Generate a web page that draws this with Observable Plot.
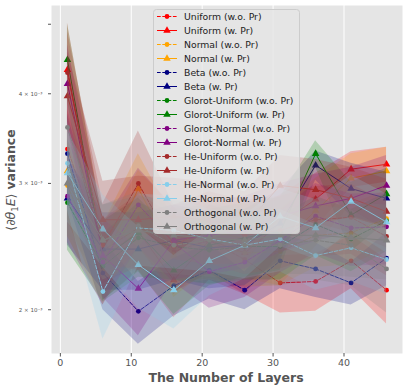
<!DOCTYPE html>
<html><head><meta charset="utf-8">
<script src="https://cdn.jsdelivr.net/npm/d3@7"></script>
<script src="https://cdn.jsdelivr.net/npm/@observablehq/plot@0.6"></script>
<style>
body{margin:0;background:#fff;font-family:"DejaVu Sans",sans-serif;}
#wrap{position:relative;width:407px;height:387px;}
#wrap svg{position:absolute;left:0;top:0;}
</style></head><body><div id="wrap"></div>
<script>
// x positions (number of layers)
const layers = [1, 6, 11, 16, 21, 26, 31, 36, 41, 46];
const labels = ["Uniform (w.o. Pr)", "Uniform (w. Pr)", "Normal (w.o. Pr)", "Normal (w. Pr)",
  "Beta (w.o. Pr)", "Beta (w. Pr)", "Glorot-Uniform (w.o. Pr)", "Glorot-Uniform (w. Pr)",
  "Glorot-Normal (w.o. Pr)", "Glorot-Normal (w. Pr)", "He-Uniform (w.o. Pr)", "He-Uniform (w. Pr)",
  "He-Normal (w.o. Pr)", "He-Normal (w. Pr)", "Orthogonal (w.o. Pr)", "Orthogonal (w. Pr)"];
// mean variance, in units of 1e-3
const uniformWo       = [3.35, 2.42, 2.60, 2.41, 2.50, 2.35, 2.18, 2.19, 2.34, 2.13];
const uniformW        = [4.32, 2.36, 2.57, 2.20, 2.50, 2.40, 2.64, 2.85, 3.14, 3.19];
const normalWo        = [2.98, 2.28, 2.78, 2.48, 2.46, 2.40, 2.41, 2.54, 2.56, 2.68];
const normalW         = [3.12, 2.33, 2.95, 2.38, 2.58, 2.51, 2.46, 2.75, 3.05, 3.12];
const betaWo          = [3.30, 2.25, 1.99, 2.16, 2.27, 2.13, 2.34, 2.28, 2.18, 2.36];
const betaW           = [2.86, 2.43, 2.43, 2.50, 2.44, 2.46, 2.64, 3.18, 2.95, 2.86];
const glorotUniWo     = [2.82, 2.30, 2.52, 2.45, 2.42, 2.45, 2.45, 2.63, 2.51, 2.66];
const glorotUniW      = [4.46, 2.36, 2.56, 2.27, 2.46, 2.52, 2.57, 3.30, 2.71, 2.90];
const glorotNormWo    = [2.88, 2.33, 2.80, 2.48, 2.26, 2.33, 2.50, 2.70, 2.60, 2.61];
const glorotNormW     = [4.13, 2.38, 2.14, 2.50, 2.54, 2.58, 2.70, 2.79, 2.86, 2.98];
const heUniWo         = [4.28, 2.46, 3.00, 2.45, 2.62, 2.54, 2.58, 2.67, 2.69, 2.53];
const heUniW          = [3.97, 2.67, 2.67, 2.70, 2.66, 2.62, 2.98, 2.94, 2.86, 2.74];
const heNormWo        = [3.20, 2.12, 2.60, 2.58, 2.51, 2.46, 2.51, 2.38, 2.44, 2.35];
const heNormW         = [3.10, 2.59, 2.31, 2.13, 2.34, 2.46, 2.70, 2.60, 2.83, 2.65];
const orthoWo         = [3.59, 2.50, 2.62, 2.46, 2.50, 2.46, 2.46, 2.50, 2.46, 2.28];
const orthoW          = [3.00, 2.50, 2.58, 2.54, 2.52, 2.50, 2.54, 2.54, 2.52, 2.50];
// standard deviation (shaded band), in units of 1e-3
const uniformWoSd     = [0.45, 0.25, 0.30, 0.30, 0.25, 0.25, 0.20, 0.20, 0.20, 0.22];
const uniformWSd      = [0.70, 0.30, 0.30, 0.25, 0.30, 0.30, 0.25, 0.25, 0.18, 0.18];
const normalWoSd      = [0.45, 0.25, 0.35, 0.30, 0.25, 0.25, 0.25, 0.25, 0.25, 0.25];
const normalWSd       = [0.45, 0.30, 0.35, 0.30, 0.30, 0.30, 0.30, 0.30, 0.25, 0.25];
const betaWoSd        = [0.45, 0.25, 0.20, 0.20, 0.20, 0.13, 0.20, 0.20, 0.15, 0.20];
const betaWSd         = [0.40, 0.30, 0.30, 0.30, 0.30, 0.30, 0.30, 0.15, 0.25, 0.25];
const glorotUniWoSd   = [0.40, 0.25, 0.30, 0.25, 0.25, 0.25, 0.25, 0.25, 0.25, 0.25];
const glorotUniWSd    = [0.55, 0.30, 0.30, 0.30, 0.30, 0.30, 0.30, 0.14, 0.30, 0.25];
const glorotNormWoSd  = [0.40, 0.30, 0.35, 0.30, 0.25, 0.25, 0.25, 0.30, 0.30, 0.30];
const glorotNormWSd   = [0.55, 0.30, 0.30, 0.30, 0.30, 0.30, 0.30, 0.30, 0.30, 0.30];
const heUniWoSd       = [0.60, 0.35, 0.55, 0.35, 0.30, 0.30, 0.30, 0.30, 0.30, 0.30];
const heUniWSd        = [0.60, 0.35, 0.40, 0.35, 0.35, 0.30, 0.30, 0.30, 0.30, 0.30];
const heNormWoSd      = [0.45, 0.30, 0.30, 0.30, 0.25, 0.25, 0.25, 0.25, 0.25, 0.25];
const heNormWSd       = [0.45, 0.30, 0.30, 0.25, 0.25, 0.25, 0.25, 0.25, 0.25, 0.25];
const orthoWoSd       = [0.50, 0.30, 0.30, 0.30, 0.30, 0.30, 0.30, 0.30, 0.30, 0.30];
const orthoWSd        = [0.45, 0.30, 0.30, 0.30, 0.30, 0.30, 0.30, 0.30, 0.30, 0.30];
// y ticks
const yTicks = [0.002, 0.003, 0.004, 0.005];
const yTickLabels = ["2 × 10⁻³", "3 × 10⁻³", "4 × 10⁻³", ""];
const xTicks = [0, 10, 20, 30, 40];

const means = [uniformWo, uniformW, normalWo, normalW, betaWo, betaW, glorotUniWo, glorotUniW,
  glorotNormWo, glorotNormW, heUniWo, heUniW, heNormWo, heNormW, orthoWo, orthoW];
const sds = [uniformWoSd, uniformWSd, normalWoSd, normalWSd, betaWoSd, betaWSd, glorotUniWoSd, glorotUniWSd,
  glorotNormWoSd, glorotNormWSd, heUniWoSd, heUniWSd, heNormWoSd, heNormWSd, orthoWoSd, orthoWSd];
const colors = ["red","red","orange","orange","navy","navy","green","green",
  "purple","purple","brown","brown","skyblue","skyblue","gray","gray"];
const unit = 1e-3;

const seriesMarks = [];
means.forEach((m, s) => {
  const rows = layers.map((x, i) => ({x, y: m[i]*unit, lo: (m[i]-sds[s][i])*unit, hi: (m[i]+sds[s][i])*unit}));
  const wo = s % 2 === 0;
  seriesMarks.push(
    Plot.areaY(rows, {x: "x", y1: "lo", y2: "hi", fill: colors[s], fillOpacity: 0.22}),
    Plot.line(rows, {x: "x", y: "y", stroke: colors[s], strokeWidth: 1, strokeDasharray: wo ? "3.7,1.6" : null}),
    Plot.dot(rows, {x: "x", y: "y", fill: colors[s], stroke: "none", r: wo ? 2.4 : 2.8, symbol: wo ? "circle" : "triangle"})
  );
});

const chart = Plot.plot({
  width: 407, height: 387,
  marginLeft: 51, marginRight: 5, marginTop: 5, marginBottom: 34,
  style: {fontFamily: "DejaVu Sans", color: "#555", background: "white"},
  x: {domain: [-1.25, 48.25]},
  y: {type: "log", domain: [0.001738, 0.00531]},
  marks: [
    Plot.frame({fill: "#E5E5E5", stroke: "none"}),
    Plot.gridX(xTicks, {stroke: "white", strokeOpacity: 1, strokeWidth: 1}),
    ...seriesMarks,
    Plot.axisX({ticks: xTicks, tickSize: 3.5, tickPadding: 2, fontSize: 9.5, label: null, stroke: "#555"}),
    Plot.axisY({ticks: yTicks, tickFormat: d => yTickLabels[yTicks.indexOf(d)], tickSize: 3, tickPadding: 6, fontSize: 5.5, label: null, stroke: "#555"})
  ]
});
const wrap = document.getElementById("wrap");
wrap.appendChild(chart);

// overlay: legend and axis labels
const ov = d3.select(wrap).append("svg").attr("width", 407).attr("height", 387)
  .style("font-family", "DejaVu Sans");
ov.append("text").attr("x", 226).attr("y", 381.5).attr("text-anchor", "middle")
  .attr("font-size", 12.5).attr("font-weight", "bold").attr("fill", "#555").text("The Number of Layers");
const yl = ov.append("text").attr("transform", "translate(15,180) rotate(-90)").attr("text-anchor", "middle")
  .attr("font-size", 12.5).attr("fill", "#555");
yl.append("tspan").text("⟨∂");
yl.append("tspan").attr("font-style", "italic").text("θ");
yl.append("tspan").attr("font-size", 8.5).attr("dy", 3).text("1");
yl.append("tspan").attr("font-style", "italic").attr("dy", -3).text("E");
yl.append("tspan").text("⟩ ");
yl.append("tspan").attr("font-weight", "bold").text("variance");

const lg = ov.append("g");
lg.append("rect").attr("x", 153.5).attr("y", 9.5).attr("width", 146).attr("height", 224).attr("rx", 3)
  .attr("fill", "#E5E5E5").attr("fill-opacity", 0.8).attr("stroke", "#cccccc").attr("stroke-width", 1);
labels.forEach((name, i) => {
  const cy = 16.5 + 14 * i;
  const wo = i % 2 === 0;
  lg.append("line").attr("x1", 157).attr("x2", 177).attr("y1", cy).attr("y2", cy)
    .attr("stroke", colors[i]).attr("stroke-width", 1).attr("stroke-dasharray", wo ? "3.7,1.6" : null);
  if (wo) {
    lg.append("circle").attr("cx", 167).attr("cy", cy).attr("r", 2.4).attr("fill", colors[i]);
  } else {
    lg.append("path").attr("transform", `translate(167,${cy})`).attr("d", d3.symbol(d3.symbolTriangle, 24)()).attr("fill", colors[i]);
  }
  lg.append("text").attr("x", 184).attr("y", cy).attr("dy", "0.35em").attr("font-size", 9.3).attr("fill", "#222").text(name);
});
</script></body></html>
